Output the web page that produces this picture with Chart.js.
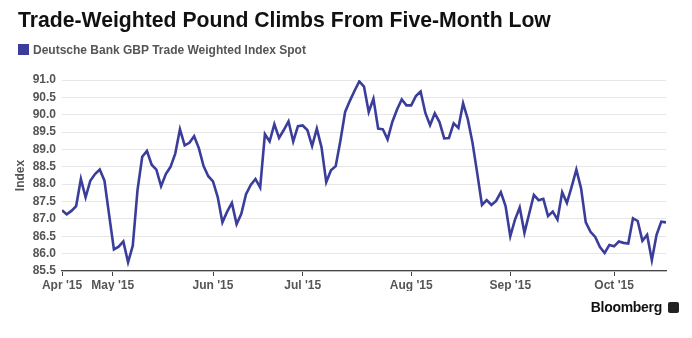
<!DOCTYPE html>
<html>
<head>
<meta charset="utf-8">
<script src="https://cdn.jsdelivr.net/npm/chart.js@4"></script>
<style>
  body { margin: 0; background: #fff; font-family: "Liberation Sans", Arial, sans-serif; }
  #wrap { position: relative; width: 692px; height: 338px; overflow: hidden; }
  #title { position: absolute; left: 18px; top: 8px; font-size: 21.2px; font-weight: bold; color: #111; white-space: nowrap; }
  #legend { position: absolute; left: 18px; top: 43px; font-size: 12px; font-weight: bold; color: #555; white-space: nowrap; }
  #legend .box { display: inline-block; width: 11px; height: 11px; background: #3b3d9a; vertical-align: -1px; margin-right: 4px; }
  #brand { position: absolute; right: 30px; top: 299px; font-size: 14px; font-weight: bold; color: #111; letter-spacing: -0.3px; }
  #brandIcon { position: absolute; left: 668px; top: 302px; width: 11px; height: 11px; background: #222; border-radius: 2px; }
  canvas { position: absolute; left: 0; top: 0; }
</style>
</head>
<body>
<div id="wrap">
  <canvas id="chart" width="692" height="338"></canvas>
  <div id="title">Trade-Weighted Pound Climbs From Five-Month Low</div>
  <div id="legend"><span class="box"></span>Deutsche Bank GBP Trade Weighted Index Spot</div>
  <div id="brand">Bloomberg</div>
  <div id="brandIcon"></div>
</div>
<script>
// daily index values (mid-April to late October 2015)
const indexValues = [
    87.25, 87.13, 87.23, 87.37, 88.15, 87.62, 88.10, 88.29, 88.42, 88.10,
    87.10, 86.12, 86.20, 86.35, 85.75, 86.23, 87.83, 88.79, 88.96, 88.56,
    88.42, 87.94, 88.29, 88.50, 88.88, 89.58, 89.12, 89.19, 89.38, 89.04,
    88.52, 88.23, 88.08, 87.63, 86.90, 87.21, 87.46, 86.85, 87.15, 87.71,
    87.98, 88.15, 87.90, 89.44, 89.23, 89.73, 89.33, 89.56, 89.81, 89.23,
    89.67, 89.69, 89.56, 89.10, 89.60, 89.06, 88.06, 88.40, 88.52, 89.25,
    90.08, 90.40, 90.69, 90.96, 90.81, 90.08, 90.46, 89.60, 89.58, 89.29,
    89.79, 90.15, 90.44, 90.27, 90.27, 90.54, 90.67, 90.05, 89.70, 90.04,
    89.79, 89.32, 89.33, 89.75, 89.62, 90.33, 89.87, 89.19, 88.31, 87.40,
    87.54, 87.40, 87.52, 87.77, 87.37, 86.50, 86.98, 87.33, 86.60, 87.15,
    87.69, 87.54, 87.58, 87.08, 87.21, 86.98, 87.77, 87.46, 87.92, 88.42,
    87.88, 86.90, 86.63, 86.48, 86.19, 86.02, 86.25, 86.21, 86.35, 86.31,
    86.29, 87.02, 86.94, 86.37, 86.54, 85.81, 86.54, 86.92, 86.90
];

// month ticks: label and where it falls along the series (point index)
const monthLabels = ["Apr '15", "May '15", "Jun '15", "Jul '15", "Aug '15", "Sep '15", "Oct '15"];
const monthIndex = [0, 10.75, 32, 51, 74, 95, 117];

const yMin = 85.5;
const yMax = 91.0;
const yStep = 0.5;

const seriesName = "Deutsche Bank GBP Trade Weighted Index Spot";
const lineColor = "#3b3d9a";
const labelColor = "#555";

let points = [];
for (let i = 0; i < indexValues.length; i++) {
    points.push({ x: i, y: indexValues[i] });
}

const tickFont = { family: "'Liberation Sans', Arial, sans-serif", size: 12, weight: "bold" };

new Chart(document.getElementById("chart"), {
    type: "line",
    data: {
        datasets: [{
            label: seriesName,
            data: points,
            borderColor: lineColor,
            borderWidth: 2.6,
            pointRadius: 0,
            tension: 0,
            fill: false
        }]
    },
    options: {
        responsive: false,
        animation: false,
        layout: { padding: { left: 0, right: 26, top: 80, bottom: 47 } },
        plugins: {
            legend: { display: false },
            tooltip: { enabled: false }
        },
        scales: {
            x: {
                type: "linear",
                min: 0,
                max: indexValues.length - 1,
                afterBuildTicks: function(scale) {
                    scale.ticks = monthIndex.map(v => ({ value: v }));
                },
                afterFit: function(scale) { scale.height = 20; },
                ticks: {
                    autoSkip: false,
                    maxRotation: 0,
                    padding: 2,
                    color: labelColor,
                    font: tickFont,
                    callback: function(value) {
                        let k = monthIndex.indexOf(value);
                        return k >= 0 ? monthLabels[k] : "";
                    }
                },
                grid: {
                    drawOnChartArea: false,
                    drawTicks: true,
                    tickLength: 5,
                    color: "#444",
                    lineWidth: 1
                },
                border: { display: true, color: "#444", width: 1.2 }
            },
            y: {
                min: yMin,
                max: yMax,
                afterFit: function(scale) { scale.width = 62; },
                ticks: {
                    stepSize: yStep,
                    autoSkip: false,
                    padding: 6,
                    color: labelColor,
                    font: tickFont,
                    callback: function(value) { return value.toFixed(1); }
                },
                grid: {
                    drawTicks: false,
                    color: "#e6e6e6",
                    lineWidth: 1
                },
                border: { display: false },
                title: {
                    display: true,
                    text: "Index",
                    color: labelColor,
                    font: tickFont,
                    padding: { top: 13, bottom: 0 }
                }
            }
        }
    }
});
</script>
</body>
</html>
